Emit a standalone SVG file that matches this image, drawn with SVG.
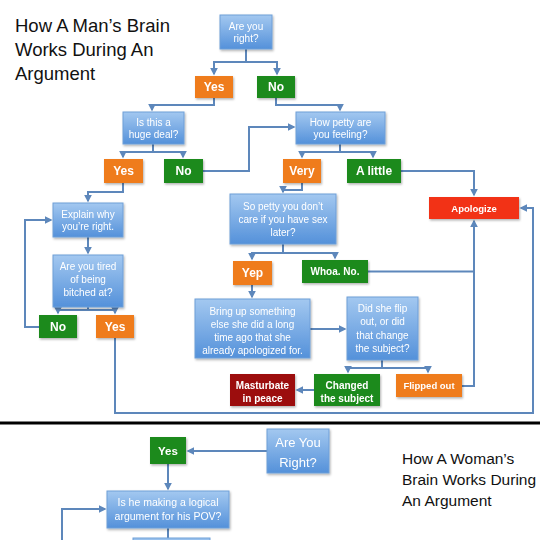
<svg xmlns="http://www.w3.org/2000/svg" width="540" height="540" viewBox="0 0 540 540">
<style>
.title{font-family:"Liberation Sans",Arial,sans-serif;fill:#111;}
.t{font-family:"Liberation Sans",Arial,sans-serif;fill:#fff;text-anchor:middle;}
.q{font-size:10px;}
.b{font-weight:bold;}
.blue{fill:url(#gBlue);stroke:#6f9fd8;stroke-width:1;}
.orange{fill:#ef7b1d;}
.green{fill:#1f8a1c;}
.red{fill:#f23217;}
.dred{fill:#9c0f0f;}
.conn path{fill:none;stroke:#5d87bb;stroke-width:2;}
</style>
<defs>
<linearGradient id="gBlue" x1="0" y1="0" x2="0" y2="1">
<stop offset="0" stop-color="#a3c8f0"/>
<stop offset="1" stop-color="#5491da"/>
</linearGradient>
<filter id="sh" x="-10%" y="-10%" width="130%" height="140%">
<feDropShadow dx="1" dy="1.5" stdDeviation="1" flood-color="#000" flood-opacity="0.3"/>
</filter>
<marker id="arr" viewBox="0 0 10 10" refX="8" refY="5" markerWidth="4" markerHeight="4" orient="auto" markerUnits="strokeWidth">
<path d="M0,0 L10,5 L0,10 z" fill="#5d87bb"/>
</marker>
</defs>
<rect width="540" height="540" fill="#fff"/>

<text class="title" x="15" y="31.5" font-size="18.5">How A Man’s Brain</text>
<text class="title" x="15" y="56" font-size="18.5">Works During An</text>
<text class="title" x="15" y="80" font-size="18.5">Argument</text>

<g class="conn">
<path d="M246,49 V62 H214 V74" marker-end="url(#arr)"/>
<path d="M246,62 H277 V74" marker-end="url(#arr)"/>
<path d="M214,98 V105 H152 V110" marker-end="url(#arr)"/>
<path d="M276,98 V105 H340 V110" marker-end="url(#arr)"/>
<path d="M153,144 V152 H123 V157" marker-end="url(#arr)"/>
<path d="M153,152 H183 V157" marker-end="url(#arr)"/>
<path d="M203,171 H249 V127 H294" marker-end="url(#arr)"/>
<path d="M340,144 V152 H302 V157" marker-end="url(#arr)"/>
<path d="M340,152 H373 V157" marker-end="url(#arr)"/>
<path d="M401,171 H474 V195" marker-end="url(#arr)"/>
<path d="M302,183 V190 H283 V192" marker-end="url(#arr)"/>
<path d="M283,244 V253 H252 V259" marker-end="url(#arr)"/>
<path d="M283,253 H335 V258" marker-end="url(#arr)"/>
<path d="M252,285 V297" marker-end="url(#arr)"/>
<path d="M368,271.5 H474"/>
<path d="M462,386 H474 V221" marker-end="url(#arr)"/>
<path d="M310,329 H345" marker-end="url(#arr)"/>
<path d="M382,360 V368 H348 V372" marker-end="url(#arr)"/>
<path d="M382,368 H428 V372" marker-end="url(#arr)"/>
<path d="M314,390 H297" marker-end="url(#arr)"/>
<path d="M115,338 V413 H533 V208 H521" marker-end="url(#arr)"/>
<path d="M123,183 V192 H88 V201" marker-end="url(#arr)"/>
<path d="M88,237 V253" marker-end="url(#arr)"/>
<path d="M88,307 V310 H58 V313" marker-end="url(#arr)"/>
<path d="M88,310 H115 V313" marker-end="url(#arr)"/>
<path d="M39,327 H25 V220 H51" marker-end="url(#arr)"/>
<path d="M267,451 H188" marker-end="url(#arr)"/>
<path d="M168,464 V489" marker-end="url(#arr)"/>
<path d="M168,528 V540"/>
<path d="M62,540 V509 H105" marker-end="url(#arr)"/>
</g>

<g id="n-are-you-right" filter="url(#sh)">
<rect class="blue" x="220" y="15" width="52" height="34"/>
<text class="t q" x="246" y="29.5">Are you</text>
<text class="t q" x="246" y="41.5">right?</text>
</g>
<g id="n-yes1" filter="url(#sh)">
<rect class="orange" x="195" y="76" width="38" height="22"/>
<text class="t b" x="214" y="91.3" font-size="12">Yes</text>
</g>
<g id="n-no1" filter="url(#sh)">
<rect class="green" x="257" y="76" width="38" height="22"/>
<text class="t b" x="276" y="91.3" font-size="12">No</text>
</g>
<g id="n-huge-deal" filter="url(#sh)">
<rect class="blue" x="123" y="112" width="61" height="32"/>
<text class="t q" x="153.5" y="125.5">Is this a</text>
<text class="t q" x="153.5" y="137.5">huge deal?</text>
</g>
<g id="n-how-petty" filter="url(#sh)">
<rect class="blue" x="296" y="112" width="89" height="32"/>
<text class="t q" x="340.5" y="125.5">How petty are</text>
<text class="t q" x="340.5" y="137.5">you feeling?</text>
</g>
<g id="n-yes2" filter="url(#sh)">
<rect class="orange" x="104" y="159" width="39" height="24"/>
<text class="t b" x="123.5" y="175.3" font-size="12">Yes</text>
</g>
<g id="n-no2" filter="url(#sh)">
<rect class="green" x="164" y="159" width="39" height="24"/>
<text class="t b" x="183.5" y="175.3" font-size="12">No</text>
</g>
<g id="n-very" filter="url(#sh)">
<rect class="orange" x="283" y="159" width="38" height="24"/>
<text class="t b" x="302" y="175.3" font-size="12">Very</text>
</g>
<g id="n-a-little" filter="url(#sh)">
<rect class="green" x="347" y="159" width="54" height="24"/>
<text class="t b" x="374" y="175.3" font-size="12">A little</text>
</g>
<g id="n-apologize" filter="url(#sh)">
<rect class="red" x="429" y="197" width="90" height="22"/>
<text class="t b" x="474" y="211.5" font-size="9.5">Apologize</text>
</g>
<g id="n-explain" filter="url(#sh)">
<rect class="blue" x="53" y="203" width="70" height="34"/>
<text class="t q" x="88" y="217.5">Explain why</text>
<text class="t q" x="88" y="229.5">you’re right.</text>
</g>
<g id="n-so-petty" filter="url(#sh)">
<rect class="blue" x="230" y="194" width="106" height="50"/>
<text class="t q" x="283" y="209.5">So petty you don’t</text>
<text class="t q" x="283" y="222.5">care if you have sex</text>
<text class="t q" x="283" y="235.5">later?</text>
</g>
<g id="n-tired" filter="url(#sh)">
<rect class="blue" x="53" y="255" width="70" height="52"/>
<text class="t q" x="88" y="270">Are you tired</text>
<text class="t q" x="88" y="283">of being</text>
<text class="t q" x="88" y="296">bitched at?</text>
</g>
<g id="n-yep" filter="url(#sh)">
<rect class="orange" x="233" y="261" width="39" height="24"/>
<text class="t b" x="252.5" y="277.3" font-size="12">Yep</text>
</g>
<g id="n-whoa" filter="url(#sh)">
<rect class="green" x="302" y="260" width="66" height="23"/>
<text class="t b" x="335" y="275" font-size="10">Whoa. No.</text>
</g>
<g id="n-no3" filter="url(#sh)">
<rect class="green" x="39" y="315" width="38" height="23"/>
<text class="t b" x="58" y="330.8" font-size="12">No</text>
</g>
<g id="n-yes3" filter="url(#sh)">
<rect class="orange" x="96" y="315" width="38" height="23"/>
<text class="t b" x="115" y="330.8" font-size="12">Yes</text>
</g>
<g id="n-bring-up" filter="url(#sh)">
<rect class="blue" x="195" y="299" width="115" height="59"/>
<text class="t q" x="252.5" y="315">Bring up something</text>
<text class="t q" x="252.5" y="328">else she did a long</text>
<text class="t q" x="252.5" y="341">time ago that she</text>
<text class="t q" x="252.5" y="354">already apologized for.</text>
</g>
<g id="n-did-she" filter="url(#sh)">
<rect class="blue" x="347" y="297" width="71" height="63"/>
<text class="t q" x="382.5" y="311.5">Did she flip</text>
<text class="t q" x="382.5" y="325">out, or did</text>
<text class="t q" x="382.5" y="338.5">that change</text>
<text class="t q" x="382.5" y="352">the subject?</text>
</g>
<g id="n-masturbate" filter="url(#sh)">
<rect class="dred" x="230" y="374" width="65" height="32"/>
<text class="t b" font-size="10" x="262.5" y="388.5">Masturbate</text>
<text class="t b" font-size="10" x="262.5" y="401.5">in peace</text>
</g>
<g id="n-changed" filter="url(#sh)">
<rect class="green" x="314" y="374" width="66" height="32"/>
<text class="t b" font-size="10" x="347" y="388.5">Changed</text>
<text class="t b" font-size="10" x="347" y="401.5">the subject</text>
</g>
<g id="n-flipped" filter="url(#sh)">
<rect class="orange" x="396" y="374" width="66" height="23"/>
<text class="t b" font-size="9.5" x="429" y="389">Flipped out</text>
</g>

<line x1="0" y1="423" x2="540" y2="423" stroke="#000" stroke-width="3"/>

<g id="n-w-are-you-right" filter="url(#sh)">
<rect class="blue" x="267" y="429" width="62" height="44"/>
<text class="t" font-size="13" x="298" y="447">Are You</text>
<text class="t" font-size="13" x="298" y="467">Right?</text>
</g>
<g id="n-w-yes" filter="url(#sh)">
<rect class="green" x="150" y="437" width="36" height="27"/>
<text class="t b" font-size="11.5" x="168" y="454.5">Yes</text>
</g>
<g id="n-w-logical" filter="url(#sh)">
<rect class="blue" x="107" y="491" width="122" height="37"/>
<text class="t" font-size="10.5" x="168" y="505.5">Is he making a logical</text>
<text class="t" font-size="10.5" x="168" y="520">argument for his POV?</text>
</g>
<g id="n-w-next">
<rect class="blue" x="133" y="538" width="77" height="10"/>
</g>

<text class="title" x="402" y="464" font-size="15.5">How A Woman’s</text>
<text class="title" x="402" y="485" font-size="15.5">Brain Works During</text>
<text class="title" x="402" y="506" font-size="15.5">An Argument</text>
</svg>
